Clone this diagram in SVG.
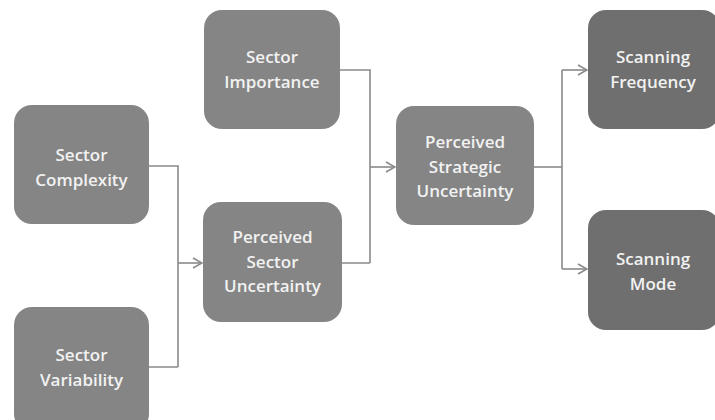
<svg xmlns="http://www.w3.org/2000/svg" width="715" height="420" viewBox="0 0 715 420">
  <style>
    .box { fill: #858585; }
    .dark { fill: #6f6f6f; }
    .lbl { font-family: "Open Sans", Lato, sans-serif; font-weight: 600; font-size: 17px; fill: #f2f2f2; text-anchor: middle; }
    .wire { fill: none; stroke: #8a8a8a; stroke-width: 1.6; }
  </style>
  <defs>
    <marker id="chev" viewBox="0 0 12 12" refX="11" refY="6" markerWidth="12" markerHeight="12" markerUnits="userSpaceOnUse" orient="auto">
      <path d="M2,1 L11,6 L2,11" fill="none" stroke="#8a8a8a" stroke-width="1.6"/>
    </marker>
  </defs>
  <rect width="715" height="420" fill="#ffffff"/>

  <g id="connectors">
    <path class="wire" d="M149,166 H178 V367 M149,367 H178"/>
    <path class="wire" d="M178,263 H202" marker-end="url(#chev)"/>
    <path class="wire" d="M340,70 H370 V263 M342,263 H370"/>
    <path class="wire" d="M370,167 H395" marker-end="url(#chev)"/>
    <path class="wire" d="M534,167 H562"/>
    <path class="wire" d="M562,70 V269"/>
    <path class="wire" d="M562,70 H587" marker-end="url(#chev)"/>
    <path class="wire" d="M562,269 H587" marker-end="url(#chev)"/>
  </g>

  <g id="sector-complexity">
    <rect class="box" x="14" y="105" width="135" height="119" rx="18"/>
    <text class="lbl" x="81.5" y="161">Sector</text>
    <text class="lbl" x="81.5" y="186">Complexity</text>
  </g>
  <g id="sector-variability">
    <rect class="box" x="14" y="307" width="135" height="125" rx="18"/>
    <text class="lbl" x="81.5" y="361">Sector</text>
    <text class="lbl" x="81.5" y="386">Variability</text>
  </g>
  <g id="sector-importance">
    <rect class="box" x="204" y="10" width="136" height="119" rx="18"/>
    <text class="lbl" x="272" y="63">Sector</text>
    <text class="lbl" x="272" y="88">Importance</text>
  </g>
  <g id="perceived-sector-uncertainty">
    <rect class="box" x="203" y="202" width="139" height="120" rx="18"/>
    <text class="lbl" x="272.5" y="243">Perceived</text>
    <text class="lbl" x="272.5" y="268">Sector</text>
    <text class="lbl" x="272.5" y="292">Uncertainty</text>
  </g>
  <g id="perceived-strategic-uncertainty">
    <rect class="box" x="396" y="106" width="138" height="119" rx="18"/>
    <text class="lbl" x="465" y="148">Perceived</text>
    <text class="lbl" x="465" y="173">Strategic</text>
    <text class="lbl" x="465" y="197">Uncertainty</text>
  </g>
  <g id="scanning-frequency">
    <rect class="dark" x="588" y="10" width="132" height="119" rx="18"/>
    <text class="lbl" x="653" y="63">Scanning</text>
    <text class="lbl" x="653" y="88">Frequency</text>
  </g>
  <g id="scanning-mode">
    <rect class="dark" x="588" y="210" width="132" height="120" rx="18"/>
    <text class="lbl" x="653" y="265">Scanning</text>
    <text class="lbl" x="653" y="290">Mode</text>
  </g>
</svg>
